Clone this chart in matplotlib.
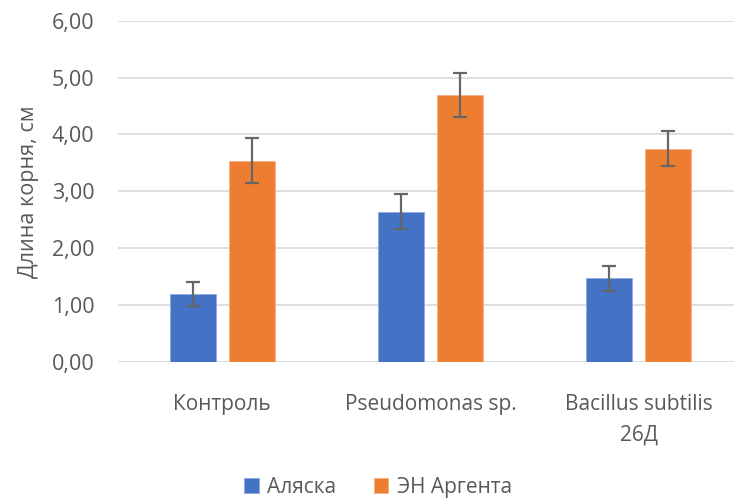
import numpy as np
import matplotlib
matplotlib.use("Agg")
import matplotlib.pyplot as plt

# data
categories = ["Контроль", "Pseudomonas sp.", "Bacillus subtilis\n26Д"]
series_names = ["Аляска", "ЭН Аргента"]
alaska = [1.20, 2.64, 1.47]
alaska_err = [0.21, 0.31, 0.22]
argenta = [3.54, 4.69, 3.75]
argenta_err = [0.40, 0.39, 0.31]
yticks = [0, 1, 2, 3, 4, 5, 6]

plt.rcParams['font.family'] = ['Open Sans', 'DejaVu Sans']
grey = "#595959"

fig = plt.figure(figsize=(7.34, 4.98), dpi=100)
ax = fig.add_axes([118 / 734, 1 - 362 / 498, 625 / 734, (362 - 20.7) / 498])

x = np.arange(len(categories))
w = 0.221
off = 0.142
err_kw = dict(ecolor="#666666", elinewidth=1.6, capsize=5, capthick=1.6)
ax.bar(x - off, alaska, w, yerr=alaska_err, color="#4472C4", edgecolor="#8faadc",
       linewidth=0.6, label=series_names[0], error_kw=err_kw, zorder=3)
ax.bar(x + off, argenta, w, yerr=argenta_err, color="#ED7D31", edgecolor="#f4b183",
       linewidth=0.6, label=series_names[1], error_kw=err_kw, zorder=3)

ax.set_xlim(-0.5, 2.5)
ax.set_ylim(0, 6)
ax.set_yticks(yticks)
ax.set_yticklabels([f"{v:.2f}".replace(".", ",") for v in yticks], fontsize=15.5, color=grey)
ax.set_xticks(x)
ax.set_xticklabels(categories, fontsize=15, color=grey, linespacing=1.6)
ax.tick_params(axis="both", length=0)
ax.tick_params(axis="x", pad=23)
ax.tick_params(axis="y", pad=17)
ax.grid(axis="y", color="#d9d9d9", linewidth=1.2, zorder=0)
for s in ax.spines.values():
    s.set_visible(False)

ax.set_ylabel("Длина корня, см", fontsize=15.5, color=grey, labelpad=9)

fig.legend(loc="center", bbox_to_anchor=(378 / 734, 1 - 487 / 498), ncol=2,
           frameon=False, fontsize=15, labelcolor=grey, handlelength=0.7,
           handleheight=0.7, handletextpad=0.4, columnspacing=1.8)

fig.savefig("out.png", dpi=100)
